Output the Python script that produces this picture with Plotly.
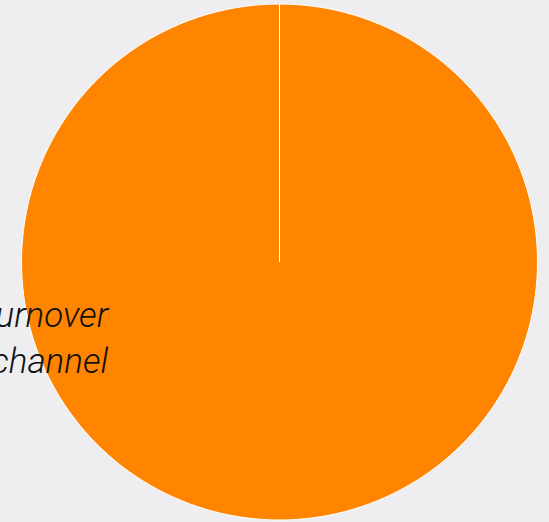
import plotly.graph_objects as go

labels = ["Turnover", "Other"]
values = [100, 0.0001]
colors = ["#FF8500", "#FF8500"]
title_lines = ["Turnover", "by channel"]

fig = go.Figure(go.Pie(
    labels=labels,
    values=values,
    marker=dict(colors=colors, line=dict(color="white", width=1)),
    textinfo="none",
    hoverinfo="label+percent",
    sort=False,
    showlegend=False,
))

fig.add_annotation(
    text="<br>".join(title_lines),
    xref="paper", yref="paper",
    x=0.1892, y=0.351,
    xanchor="right", yanchor="middle",
    align="right",
    showarrow=False,
    font=dict(family="Roboto", size=35, color="#111111", style="italic", weight=300),
)

fig.update_layout(
    width=549, height=522,
    margin=dict(l=10, r=0, t=4, b=2),
    paper_bgcolor="#EEEEF1",
    plot_bgcolor="#EEEEF1",
)

fig.write_html("out.html")
